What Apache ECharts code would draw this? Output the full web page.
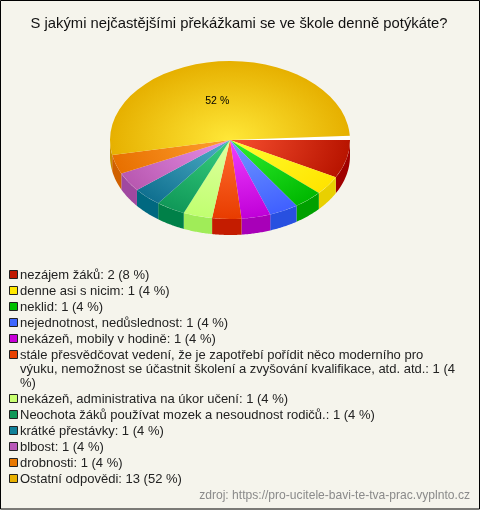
<!DOCTYPE html>
<html><head><meta charset="utf-8">
<style>html,body{margin:0;padding:0;background:#f5f4ec}#c{width:480px;height:510px}</style>
<script src="https://cdn.jsdelivr.net/npm/echarts@6/dist/echarts.min.js"></script>
</head><body><div id="c"></div>
<script>
const titleText = 'S jakými nejčastějšími překážkami se ve škole denně potýkáte?';
const sourceText = 'zdroj: https://pro-ucitele-bavi-te-tva-prac.vyplnto.cz';
const categories = ['nezájem žáků','denne asi s nicim','neklid','nejednotnost, nedůslednost','nekázeň, mobily v hodině',
 'stále přesvědčovat vedení, že je zapotřebí pořídit něco moderního pro\nvýuku, nemožnost se účastnit školení a zvyšování kvalifikace, atd. atd.',
 'nekázeň, administrativa na úkor učení','Neochota žáků používat mozek a nesoudnost rodičů.','krátké přestávky','blbost','drobnosti','Ostatní odpovědi'];
const values = [2,1,1,1,1,1,1,1,1,1,1,13];
const percents = [8,4,4,4,4,4,4,4,4,4,4,52];
const swatch = ['#c01800','#ffe800','#00c000','#4068ff','#c800d8','#e84000','#c8ff70','#109858','#108098','#b858b8','#e87800','#e8b000'];
const centerCol = ['#f85030','#ffff30','#30f030','#7098ff','#f040ff','#ff7030','#e0ffa0','#38d080','#50b0c8','#e890e8','#ffa030','#ffe838'];
const edgeCol = ['#b81400','#ffe400','#00b800','#4060ff','#c000d8','#e83c00','#c0ff70','#109858','#107090','#b858b0','#e87000','#e6b000'];
const sideCol = ['#a00000','#e8d000','#00a000','#2850e0','#a800b8','#c41c00','#a0ec58','#008048','#006880','#a048a0','#d06000','#c89000'];

const CX = 230, CY = 140, RX = 120, RY = 79, DEPTH = 16, SQUEEZE = 0.978, GAP = 0.054;
const total = values.reduce((a,b)=>a+b,0);
const bounds = [0]; values.forEach(v=>bounds.push(bounds[bounds.length-1]+v/total*Math.PI*2));

function renderItem(params, api){
  const i = api.value(0);
  const isLast = i===values.length-1;
  const a0 = bounds[i]*SQUEEZE;
  const a1 = isLast ? Math.PI*2-GAP : bounds[i+1]*SQUEEZE;
  const top = {
    type:'sector', z2:10+i,
    shape:{cx:CX,cy:CY,r:RX,r0:0,startAngle:a0,endAngle:a1,clockwise:true},
    originX:CX, originY:CY, scaleY:RY/RX,
    style:{fill:new echarts.graphic.RadialGradient(CX,CY,RX,[{offset:0,color:centerCol[i]},{offset:1,color:edgeCol[i]}],true)}
  };
  const children=[];
  const sa=Math.max(a0,0), sb=Math.min(a1,Math.PI);
  if(sa<sb){
    const pts=[];
    for(let k=0;k<=24;k++){const t=sa+(sb-sa)*k/24;pts.push([CX+RX*Math.cos(t),CY+RY*Math.sin(t)]);}
    for(let k=24;k>=0;k--){const t=sa+(sb-sa)*k/24;pts.push([CX+RX*Math.cos(t),CY+RY*Math.sin(t)+DEPTH]);}
    children.push({type:'polygon',z2:1,shape:{points:pts},style:{fill:sideCol[i]}});
  }
  children.push(top);
  if(isLast){
    children.push({type:'sector',z2:5,shape:{cx:CX,cy:CY,r:RX,r0:0,startAngle:a1,endAngle:Math.PI*2,clockwise:true},originX:CX,originY:CY,scaleY:RY/RX,style:{fill:'#ffffff'}});
    const mid=(a0+bounds[i+1])/2;
    children.push({type:'text',z2:40,style:{text:percents[i]+' %',x:CX+RX*0.5*Math.cos(mid)-7,y:CY+RY*0.5*Math.sin(mid),fill:'#000',font:'10.5px "Liberation Sans"',align:'center',verticalAlign:'middle'}});
  }
  return {type:'group',children};
}

const legend=[]; let y=268;
categories.forEach((c,i)=>{
  let text=c+': '+values[i]+' ('+percents[i]+' %)';
  if(text.includes('atd. atd.')) text=text.replace('atd. atd.: 1 (4 %)','atd. atd.: 1 (4\n%)');
  legend.push({type:'rect',shape:{x:9.5,y:y+2.5,width:8,height:8},style:{fill:swatch[i],stroke:'#222',lineWidth:1}});
  legend.push({type:'text',style:{text,x:20,y:y,fill:'#222',font:'13px "Liberation Sans"',lineHeight:14,verticalAlign:'top'}});
  y+=16+14*(text.split('\n').length-1);
});

const chart=echarts.init(document.getElementById('c'),null,{renderer:'canvas'});
chart.setOption({
  animation:false,
  backgroundColor:'#f5f4ec',
  title:{text:titleText,left:234,top:11,textAlign:'center',textStyle:{fontFamily:'Liberation Sans',fontWeight:'normal',fontSize:14.8,color:'#111'}},
  xAxis:{show:false,min:0,max:1},yAxis:{show:false,min:0,max:1},
  grid:{left:0,right:0,top:0,bottom:0},
  series:[{type:'custom',coordinateSystem:'none',renderItem,silent:true,data:values.map((v,i)=>[i,v])}],
  graphic:[
    {type:'rect',silent:true,z:-1,shape:{x:.5,y:.5,width:479,height:508.5},style:{fill:'none',stroke:'#000',lineWidth:1}},
    ...legend,
    {type:'text',style:{text:sourceText,x:470,y:490,align:'right',verticalAlign:'top',fill:'#8a8a8a',font:'12.1px "Liberation Sans"'}}
  ]
});
</script></body></html>
